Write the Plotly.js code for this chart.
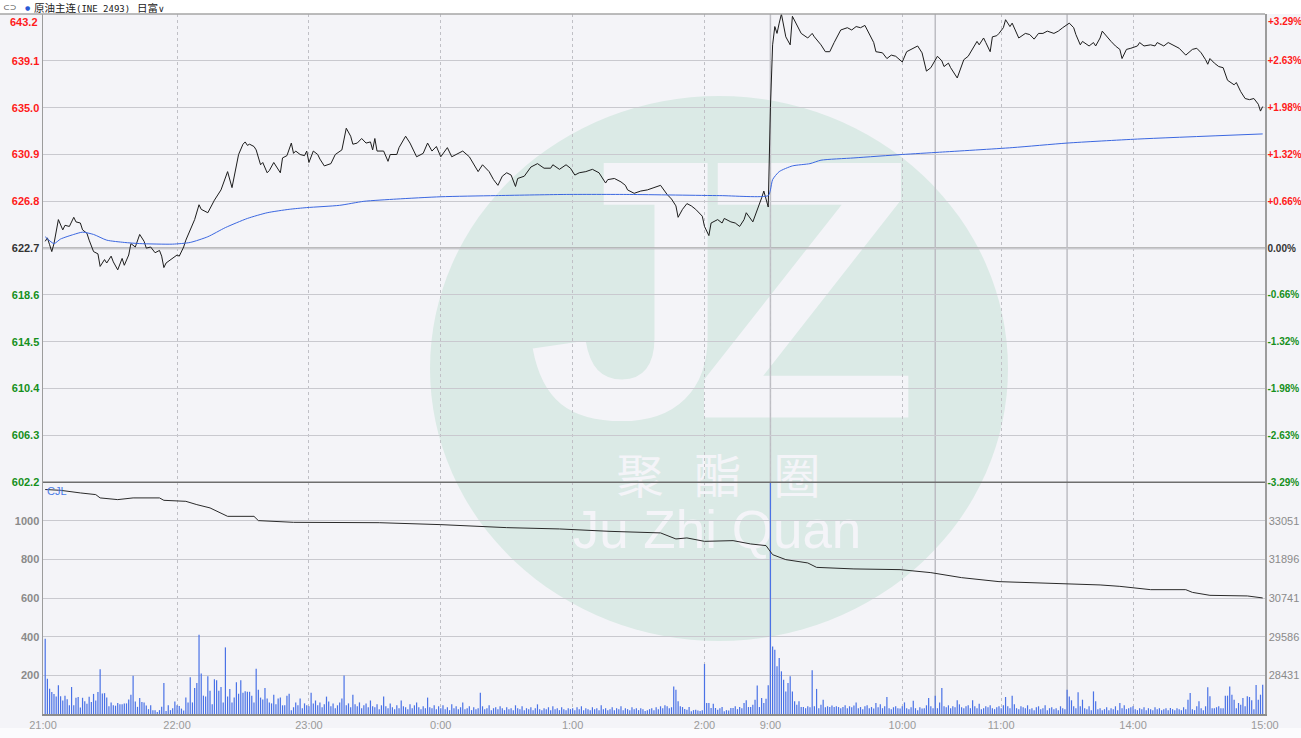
<!DOCTYPE html>
<html>
<head>
<meta charset="utf-8">
<script src="https://cdn.plot.ly/plotly-3.0.1.min.js"></script>
<style>
  html, body { margin: 0; padding: 0; background: #f4f4f8; }
  #chart { width: 1301px; height: 738px; }
</style>
</head>
<body>
<div id="chart"></div>
<script>
// previous settlement and axis ticks
const basePrice = 622.7;
const priceTicks = [602.2, 606.3, 610.4, 614.5, 618.6, 622.7, 626.8, 630.9, 635.0, 639.1, 643.2];
const volTicks = [200, 400, 600, 800, 1000];
const volMax = 1200;
const oiTicks = [28431, 29586, 30741, 31896, 33051];

// minute index from 21:00 (night 21:00-2:30, day 9:00-10:15, 10:30-11:30, 13:30-15:00)
const timeLabels = ["21:00", "22:00", "23:00", "0:00", "1:00", "2:00", "9:00", "10:00", "11:00", "14:00", "15:00"];
const timeLabelMinute = [-1, 60, 120, 180, 240, 300, 330, 390, 435, 495, 555];
const sessionBreakMinute = [330, 405, 465];

// [minute, price]
const priceSeries = [
  [0,623.3],[1,623.6],[2,623.0],[3,622.4],[4,623.1],[6,625.2],[8,624.3],[9,624.7],[11,624.6],[13,625.4],
  [14,625.0],[16,624.9],[17,624.3],[19,624.0],[20,623.4],[22,622.4],[24,622.2],[25,621.1],[27,621.7],[28,621.4],
  [30,622.0],[31,621.5],[33,620.8],[35,621.8],[36,621.2],[38,622.1],[39,623.1],[41,622.8],[43,623.9],[45,623.3],
  [46,622.7],[48,622.8],[50,622.3],[52,622.5],[53,622.0],[54,621.0],[55,621.4],[58,621.8],[60,622.1],[61,622.0],
  [63,622.8],[64,623.4],[66,624.3],[68,625.2],[70,626.5],[71,626.1],[74,625.8],[75,626.2],[77,626.9],[80,627.8],
  [82,629.0],[83,629.4],[85,628.0],[87,629.9],[88,630.9],[90,631.8],[91,632.0],[92,631.7],[93,631.8],[95,631.6],
  [96,631.3],[98,630.0],[99,630.2],[101,629.3],[102,629.5],[104,630.2],[105,629.9],[107,629.3],[108,630.6],[110,630.8],
  [112,631.9],[113,631.0],[114,631.2],[116,630.9],[118,630.8],[119,631.2],[120,630.2],[122,631.2],[124,630.9],[125,630.5],
  [127,629.9],[130,630.1],[132,630.9],[135,631.3],[137,633.2],[139,632.5],[140,631.8],[142,631.9],[144,632.3],[146,631.9],
  [148,632.0],[149,631.3],[150,632.3],[151,631.2],[154,631.2],[156,630.3],[157,630.9],[160,630.9],[161,631.5],[164,632.5],
  [166,631.9],[169,630.7],[172,631.0],[174,631.9],[176,631.2],[178,631.6],[180,630.7],[183,631.5],[185,630.7],[187,630.9],
  [190,631.2],[193,630.7],[195,630.1],[197,629.4],[199,630.0],[202,629.4],[204,628.7],[206,628.2],[208,629.0],[210,629.3],
  [212,629.1],[214,628.1],[215,628.8],[218,629.0],[221,629.8],[224,630.1],[227,629.7],[230,629.7],[231,630.0],[234,629.6],
  [237,630.0],[239,629.7],[241,629.1],[243,629.3],[246,629.4],[249,629.6],[252,629.3],[255,628.4],[256,628.7],[259,628.8],
  [262,628.5],[264,628.2],[265,627.8],[268,627.5],[271,627.7],[274,627.8],[277,628.0],[280,628.2],[283,627.4],[285,627.0],
  [287,626.4],[288,625.4],[290,626.1],[292,626.6],[294,626.4],[296,626.1],[299,625.5],[300,624.6],[302,623.8],[303,624.9],
  [306,625.2],[308,624.9],[309,625.3],[312,625.0],[314,624.9],[316,624.6],[318,625.2],[319,625.8],[322,625.0],[323,625.5],
  [325,626.6],[326,627.1],[327,627.7],[328,626.9],[329,626.3],[330,635.0],[331,640.5],[332,642.1],[333,641.5],[334,642.4],
  [335,643.2],[337,641.2],[339,640.5],[340,643.0],[342,642.3],[344,641.5],[347,641.1],[349,641.5],[350,641.2],[353,640.5],
  [355,639.9],[357,639.9],[359,640.7],[361,641.4],[362,641.8],[365,642.0],[367,641.8],[369,642.1],[371,642.0],[373,642.2],
  [375,641.4],[377,640.7],[378,639.9],[381,639.8],[383,639.3],[385,639.6],[387,639.5],[390,639.0],[392,639.9],[394,640.1],
  [397,640.4],[399,639.8],[401,638.2],[403,638.5],[404,638.8],[406,639.5],[408,639.1],[409,638.6],[411,638.9],[412,638.5],
  [415,637.6],[416,638.2],[418,639.2],[420,639.5],[422,640.1],[424,640.8],[425,640.5],[427,641.1],[428,640.7],[430,639.9],
  [431,641.2],[433,641.3],[434,641.5],[436,642.0],[437,642.7],[439,642.1],[440,642.4],[441,642.0],[443,641.1],[446,641.5],
  [448,641.4],[450,641.0],[452,641.5],[454,641.5],[456,641.7],[459,641.5],[461,641.7],[463,642.0],[466,642.4],[468,642.0],
  [469,641.4],[471,640.5],[472,640.8],[475,640.4],[477,640.7],[478,640.4],[480,641.1],[481,641.7],[483,641.2],[485,640.8],
  [487,640.4],[489,640.1],[490,639.3],[492,640.1],[494,640.2],[497,640.4],[498,640.7],[500,640.4],[503,640.5],[505,640.4],
  [506,640.7],[509,640.4],[511,640.7],[513,640.5],[516,640.2],[519,639.6],[522,640.1],[524,640.2],[526,639.8],[528,639.2],
  [529,638.8],[530,639.3],[532,638.9],[534,638.6],[536,638.5],[538,637.4],[541,637.0],[542,637.2],[544,636.4],[546,635.8],
  [548,635.7],[550,635.8],[552,635.3],[553,634.7],[554,635.1]
];

// [minute, average price]
const avgSeries = [
  [0,623.7],[4,623.1],[7,623.5],[13,623.9],[17,624.1],[22,623.9],[28,623.4],[36,623.2],[43,623.1],[58,623.05],
  [66,623.2],[74,623.7],[82,624.5],[92,625.3],[101,625.8],[111,626.1],[119,626.25],[134,626.45],[145,626.8],[160,627.0],
  [180,627.2],[205,627.3],[236,627.4],[266,627.4],[307,627.3],[329,627.3],[330,627.8],[331,628.7],[334,629.4],[340,629.9],
  [348,630.1],[353,630.4],[368,630.6],[390,630.9],[407,631.1],[440,631.5],[465,631.9],[497,632.25],[554,632.7]
];

// [minute, open interest]
const oiSeries = [
  [0,33990],[7,33966],[16,33888],[23,33838],[25,33739],[33,33688],[40,33739],[52,33739],[54,33667],[60,33637],
  [64,33637],[69,33538],[75,33440],[83,33188],[95,33188],[97,33060],[104,33040],[113,33009],[152,32998],[180,32940],
  [210,32850],[234,32811],[257,32739],[280,32692],[287,32512],[292,32542],[300,32440],[313,32461],[321,32362],[328,32312],
  [331,32042],[337,31893],[347,31794],[351,31662],[368,31615],[389,31594],[403,31504],[417,31354],[434,31235],[462,31175],
  [480,31136],[489,31094],[497,31046],[503,30995],[519,30995],[522,30914],[530,30825],[541,30807],[547,30807],[554,30747]
];

// volume per minute (CJL)
const volume = [
  390,183,131,114,104,90,149,92,70,95,76,45,140,45,84,88,34,84,66,53,89,62,104,70,114,232,106,108,85,40,
  60,45,43,57,50,50,55,55,75,100,198,65,37,83,62,60,44,25,45,20,20,10,20,38,160,15,45,20,30,65,
  45,42,28,18,85,60,190,60,135,160,410,210,95,90,195,120,50,180,175,120,140,60,345,90,130,60,85,165,105,175,
  110,118,115,115,95,60,235,125,85,75,135,80,60,55,100,50,80,85,45,45,95,105,20,35,60,45,80,30,55,45,
  40,110,55,70,45,60,35,50,90,65,40,55,30,45,60,80,200,45,55,35,100,50,40,60,30,45,55,35,70,40,
  35,50,25,45,90,40,30,55,35,25,45,30,70,40,35,25,50,30,45,60,35,25,40,30,85,35,30,45,25,40,
  30,45,25,35,20,50,30,40,25,35,60,25,30,40,20,35,25,30,110,40,25,30,45,20,30,35,25,40,30,20,
  35,25,30,20,45,30,25,40,20,30,25,35,20,30,50,25,20,30,25,35,20,40,25,30,20,35,25,20,30,25,
  30,20,35,25,40,20,30,25,20,35,25,30,20,45,25,30,20,25,35,20,30,25,40,20,30,25,20,35,25,30,
  20,30,25,15,20,25,30,20,35,25,40,30,45,40,30,35,143,126,66,40,36,26,22,36,14,20,22,18,15,20,
  259,57,57,31,53,31,22,30,36,14,20,18,31,31,40,25,36,30,57,71,36,36,48,74,147,36,83,57,79,149,
  1200,350,333,247,290,221,178,117,161,195,117,66,48,66,36,36,30,40,35,226,40,130,30,48,74,35,40,36,44,36,
  40,36,30,36,45,30,40,35,44,60,30,36,25,40,45,30,36,28,57,35,50,30,40,88,30,25,35,40,30,28,
  40,60,30,25,35,69,30,20,35,28,30,45,83,40,30,
  95,30,60,135,40,35,45,30,40,35,71,50,35,30,40,45,30,71,40,30,53,25,30,40,35,45,30,25,35,40,
  30,45,88,40,30,95,50,30,25,40,35,30,45,25,30,20,35,40,25,30,45,20,30,35,25,30,20,40,30,25,
  126,91,71,40,30,112,40,74,30,25,40,20,117,66,25,30,20,25,35,20,30,25,40,20,57,30,45,25,30,35,
  40,25,20,30,25,35,20,30,25,20,35,25,30,20,25,30,20,31,25,20,30,25,20,35,25,
  74,109,25,20,40,66,30,20,40,138,92,30,30,35,40,30,30,95,95,143,100,74,30,57,48,83,40,92,88,71,25,150,74,100,152
];

const RED = "#ff1a1a", GREEN = "#16901c", DARK = "#333333";
const tickColor = (v) => (v > basePrice ? RED : v < basePrice ? GREEN : DARK);
const topIdx = priceTicks.length - 1;

const priceLabel = (v) => `<b><span style="color:${tickColor(v)}">${v.toFixed(1)}</span></b>`;
const pctLabel = (v) => {
  const pct = ((v - basePrice) / basePrice) * 100;
  const s = (pct > 0 ? "+" : "") + pct.toFixed(2) + "%";
  return `<b><span style="color:${tickColor(v)}">${s}</span></b>`;
};
// the top labels sit a little below the top edge, drawn as annotations further down
const priceTickText = priceTicks.map((v, i) => (i === topIdx ? "" : priceLabel(v)));
const pctTickText = priceTicks.map((v, i) => (i === topIdx ? "" : pctLabel(v)));
const volTickText = volTicks.map((v) => `<b>${v}</b>`);

const oiStep = oiTicks[1] - oiTicks[0];
const oiRange = [oiTicks[0] - oiStep, oiTicks[0] + oiStep * (volMax / volTicks[0] - 1)];
const priceRange = [priceTicks[0], priceTicks[topIdx]];

const traces = [
  {
    x: volume.map((v, i) => i),
    y: volume,
    type: "bar",
    xaxis: "x",
    yaxis: "y3",
    marker: { color: "#4a72e6", line: { width: 0 } },
  },
  {
    x: oiSeries.map((p) => p[0]),
    y: oiSeries.map((p) => p[1]),
    type: "scatter",
    mode: "lines",
    xaxis: "x",
    yaxis: "y4",
    line: { color: "#2a2a2a", width: 1 },
  },
  {
    x: avgSeries.map((p) => p[0]),
    y: avgSeries.map((p) => p[1]),
    type: "scatter",
    mode: "lines",
    xaxis: "x",
    yaxis: "y2",
    line: { color: "#3b67e0", width: 1, shape: "spline", smoothing: 0.6 },
  },
  {
    x: priceSeries.map((p) => p[0]),
    y: priceSeries.map((p) => p[1]),
    type: "scatter",
    mode: "lines",
    xaxis: "x",
    yaxis: "y",
    line: { color: "#1c1c1c", width: 1 },
  },
];

// pixel helpers for decorations (plot area 43..1265 x 14..714)
const PL = 43, PW = 1222, PB = 714, PH = 700;
const px = (v) => (v - PL) / PW;
const py = (v) => (PB - v) / PH;
const split = 0.331;

const labelBox = (cx, cy, text, font) => ({
  type: "rect", xref: "paper", yref: "paper",
  x0: px(cx - 5), x1: px(cx + 5), y0: py(cy + 5), y1: py(cy - 5),
  line: { width: 0 }, fillcolor: "rgba(0,0,0,0)", layer: "below",
  label: { text: text, font: font, textposition: "middle center" },
});
const WM = "#f4f4f8";
const wmBold = { family: "Liberation Sans, Arial", size: 370, color: WM, weight: "bold" };

const shapes = [
  // watermark disc
  { type: "circle", xref: "paper", yref: "paper", x0: px(430), x1: px(1008), y0: py(641), y1: py(96),
    fillcolor: "#dbeae6", line: { width: 0 }, layer: "below" },
  labelBox(630, 254, "J", wmBold),
  labelBox(806, 254, "Z", wmBold),
  labelBox(640, 480, "聚", { family: "Noto Sans CJK SC", size: 47, color: WM }),
  labelBox(718, 480, "酯", { family: "Noto Sans CJK SC", size: 47, color: WM }),
  labelBox(797, 480, "圈", { family: "Noto Sans CJK SC", size: 47, color: WM }),
  labelBox(717, 524, "Ju Zhi Quan", { family: "Liberation Sans, Arial", size: 53, color: WM }),
  // header strip
  { type: "rect", xref: "paper", yref: "paper", x0: px(0), x1: px(1301), y0: 1, y1: py(0),
    fillcolor: "#ffffff", line: { width: 0 }, layer: "below" },
  // bottom strip
  { type: "rect", xref: "paper", yref: "paper", x0: px(0), x1: px(1301), y0: py(738), y1: py(728),
    fillcolor: "#fbfbfd", line: { width: 0 }, layer: "below" },
  // previous settlement line
  { type: "line", xref: "paper", yref: "y", x0: 0, x1: 1, y0: basePrice, y1: basePrice,
    line: { color: "#a8a8a8", width: 2 }, layer: "between" },
  // top border and panel divider
  { type: "line", xref: "paper", yref: "paper", x0: px(0), x1: 1, y0: 1, y1: 1,
    line: { color: "#a6a6a6", width: 1.5 } },
  { type: "line", xref: "paper", yref: "paper", x0: 0, x1: 1, y0: split, y1: split,
    line: { color: "#6e6e6e", width: 1.6 } },
];
sessionBreakMinute.forEach((m) => {
  shapes.push({ type: "line", xref: "x", yref: "paper", x0: m, x1: m, y0: 0, y1: 1,
    line: { color: "#bdbdc3", width: 1.5 }, layer: "between" });
});

const hdrY = py(8);
const hdr = (x, text, font) => ({
  xref: "paper", yref: "paper", x: px(x), y: hdrY, xanchor: "left", yanchor: "middle",
  showarrow: false, borderpad: 0, text: text, font: font,
});
const annotations = [
  hdr(2, "⊂⊃", { family: "DejaVu Sans", size: 8, color: "#444" }),
  hdr(24, "●", { family: "DejaVu Sans", size: 6, color: "#2a5ad6" }),
  hdr(33, "原油主连<span style='font-size:9px;font-family:DejaVu Sans Mono'>(INE 2493)</span>",
    { family: "Noto Sans CJK SC", size: 10.5, color: "#222" }),
  hdr(136, "日富<span style='font-family:DejaVu Sans;font-size:9px'>∨</span>",
    { family: "Noto Sans CJK SC", size: 10.5, color: "#222" }),
  { xref: "paper", yref: "paper", x: px(45), y: py(483), xanchor: "left", yanchor: "top", showarrow: false,
    text: "CJL", font: { family: "Arial, Liberation Sans", size: 11, color: "#4a7be8" } },
  // top tick labels, nudged under the border
  { xref: "paper", yref: "paper", x: px(40), y: py(22), xanchor: "right", yanchor: "middle", showarrow: false,
    text: priceLabel(priceTicks[topIdx]), font: { family: "Arial, Liberation Sans", size: 11 } },
  { xref: "paper", yref: "paper", x: px(1266), y: py(21), xanchor: "left", yanchor: "middle", showarrow: false,
    text: pctLabel(priceTicks[topIdx]), font: { family: "Arial, Liberation Sans", size: 10 } },
];

const axisBase = { zeroline: false, ticks: "", fixedrange: true, showline: true, linecolor: "#9c9c9c", linewidth: 1.5 };

const layout = {
  width: 1301,
  height: 738,
  margin: { l: 43, r: 36, t: 14, b: 24, pad: 0 },
  paper_bgcolor: "#f4f4f8",
  plot_bgcolor: "#f4f4f8",
  showlegend: false,
  hovermode: false,
  bargap: 0.45,
  font: { family: "Arial, Liberation Sans, sans-serif", size: 11, color: "#8a8a8a" },
  xaxis: Object.assign({}, axisBase, {
    anchor: "y3",
    range: [-1, 555.05],
    tickmode: "array",
    tickvals: timeLabelMinute,
    ticktext: timeLabels,
    tickfont: { size: 11, color: "#9a9a9a" },
    showgrid: true,
    gridcolor: "#c0c0c6",
    griddash: "dot",
    gridwidth: 1,
    linecolor: "#8c8c8c",
  }),
  yaxis: Object.assign({}, axisBase, {
    domain: [split, 1],
    range: priceRange,
    tickmode: "array",
    tickvals: priceTicks,
    ticktext: priceTickText,
    tickfont: { size: 11 },
    gridcolor: "#c9c9cf",
  }),
  yaxis2: Object.assign({}, axisBase, {
    overlaying: "y",
    side: "right",
    anchor: "x",
    range: priceRange,
    tickmode: "array",
    tickvals: priceTicks,
    ticktext: pctTickText,
    tickfont: { size: 10 },
    ticklabelstandoff: -1,
    showgrid: false,
  }),
  yaxis3: Object.assign({}, axisBase, {
    domain: [0, split],
    range: [0, volMax],
    tickmode: "array",
    tickvals: volTicks,
    ticktext: volTickText,
    tickfont: { size: 11, color: "#8a8a8a" },
    gridcolor: "#c9c9cf",
  }),
  yaxis4: Object.assign({}, axisBase, {
    overlaying: "y3",
    side: "right",
    anchor: "x",
    range: oiRange,
    tickmode: "array",
    tickvals: oiTicks,
    ticktext: oiTicks.map(String),
    tickfont: { size: 11, color: "#8a8a8a" },
    showgrid: false,
  }),
  shapes: shapes,
  annotations: annotations,
};

Plotly.newPlot("chart", traces, layout, { staticPlot: true, displayModeBar: false });
</script>
</body>
</html>
